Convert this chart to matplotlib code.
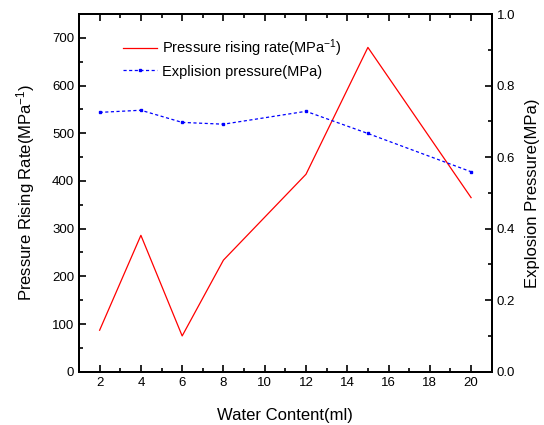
import matplotlib
matplotlib.use("Agg")
import matplotlib.pyplot as plt
from matplotlib.ticker import MultipleLocator

plt.rcParams['font.family'] = ['Liberation Sans', 'DejaVu Sans']
plt.rcParams['mathtext.fontset'] = 'custom'
plt.rcParams['mathtext.rm'] = 'Liberation Sans'
plt.rcParams['mathtext.it'] = 'Liberation Sans:italic'
plt.rcParams['mathtext.bf'] = 'Liberation Sans:bold'

water = [2, 4, 6, 8, 12, 15, 20]
rising_rate = [87, 286, 75, 234, 414, 680, 365]
explosion_pressure = [0.725, 0.731, 0.697, 0.692, 0.728, 0.666, 0.559]

fig = plt.figure(figsize=(5.44, 4.25), dpi=100)
ax = fig.add_axes([0.1452, 0.1254, 0.7587, 0.8416])
ax2 = ax.twinx()

l1, = ax.plot(water, rising_rate, color='#ff0000', lw=0.9,
              label='Pressure rising rate(MPa$^{-1}$)')
l2, = ax2.plot(water, explosion_pressure, color='#0000ff', lw=0.9, ls=(0, (2.5, 2)),
               marker='s', ms=2, label='Explision pressure(MPa)')

ax.set_xlim(1, 21)
ax.set_ylim(0, 750)
ax2.set_ylim(0, 1.0)
ax.xaxis.set_major_locator(MultipleLocator(2))
ax.xaxis.set_minor_locator(MultipleLocator(1))
ax.yaxis.set_major_locator(MultipleLocator(100))
ax.yaxis.set_minor_locator(MultipleLocator(50))
ax2.yaxis.set_major_locator(MultipleLocator(0.2))
ax2.yaxis.set_minor_locator(MultipleLocator(0.1))
ax2.yaxis.set_major_formatter(matplotlib.ticker.FormatStrFormatter('%.1f'))

ax.tick_params(axis='x', which='both', direction='in', top=True, labelsize=9.5)
ax.tick_params(axis='y', which='both', direction='in', labelsize=9.5)
ax2.tick_params(axis='y', which='both', direction='in', labelsize=9.5)
for a in (ax, ax2):
    a.tick_params(which='major', length=5, width=1.2)
    a.tick_params(which='minor', length=3, width=1.2)
    for s in a.spines.values():
        s.set_linewidth(1.4)

ax.set_xlabel('Water Content(ml)', fontsize=12, labelpad=14)
ax.set_ylabel('Pressure Rising Rate(MPa$^{-1}$)', fontsize=12, labelpad=11)
ax2.set_ylabel('Explosion Pressure(MPa)', fontsize=12, labelpad=7)

ax.legend([l1, l2], [l1.get_label(), l2.get_label()], loc='upper left',
          bbox_to_anchor=(0.075, 0.97), frameon=False, fontsize=10.5,
          handlelength=2.3, handletextpad=0.4, labelspacing=0.35)

fig.savefig('out.png', dpi=100)
